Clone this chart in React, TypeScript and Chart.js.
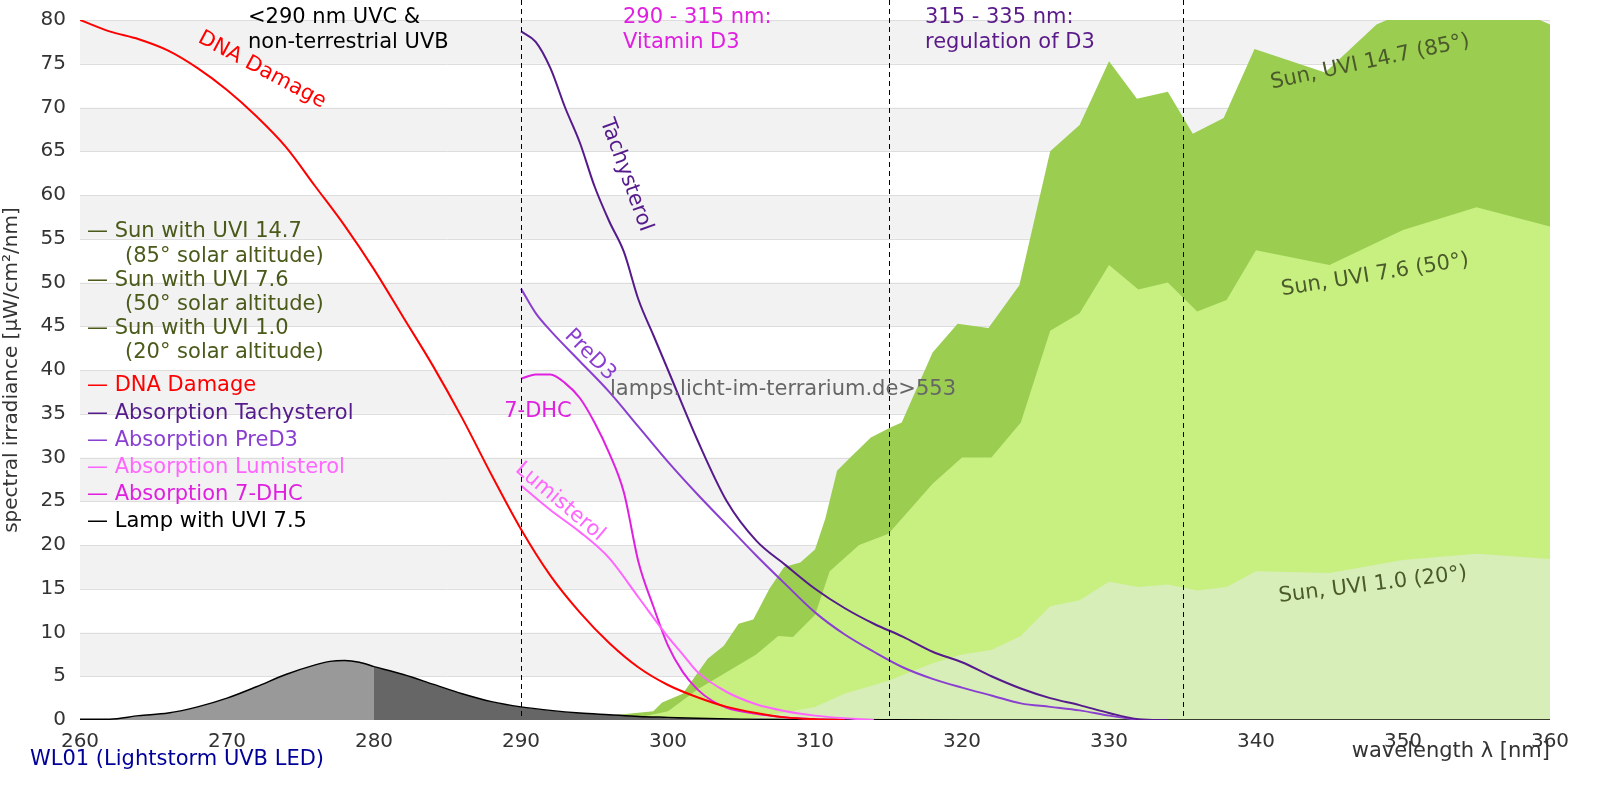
import React, { useEffect, useRef } from "react";
import { Chart, registerables } from "chart.js";
Chart.register(...registerables);

const sun147X = [293, 299, 299.6, 301, 302.7, 303.8, 304.8, 305.8, 306.9, 307.9, 309, 310, 310.7, 311.5, 312.4, 313.8, 315.2, 315.9, 318, 319.7, 321.8, 323.9, 326, 328, 330, 331.9, 334, 335.7, 337.8, 339.9, 344.7, 348.2, 351, 354.4, 356.5, 360];
const sun147Y = [0, 1, 2, 3, 7, 8.5, 11, 11.5, 15, 17.5, 18, 19.5, 23, 28.5, 30, 32.3, 33.5, 34, 42, 45.3, 44.8, 49.7, 65, 68, 75.3, 71, 71.8, 67, 68.8, 76.7, 74, 79.5, 81.5, 83, 82, 79.5];
const sun76X = [293, 298, 300, 302, 304, 305, 306, 307.5, 308.5, 310, 311, 313, 315, 318, 320, 322, 324, 326, 328, 330, 332, 334, 336, 338, 340, 345, 350, 355, 360];
const sun76Y = [0, 0.3, 1, 3.5, 5.5, 6.5, 7.5, 9.6, 9.5, 12, 17, 20, 21.3, 27, 30, 30, 34, 44.5, 46.5, 52, 49.2, 50, 46.7, 48, 53.7, 52, 56, 58.6, 56.4];
const sun10X = [305, 310, 312, 315, 318, 320, 322, 324, 326, 328, 330, 332, 334, 336, 338, 340, 345, 350, 355, 360];
const sun10Y = [0, 1.5, 3, 4.5, 6.5, 7.5, 8, 9.6, 13, 13.7, 15.8, 15.2, 15.5, 14.8, 15.2, 17, 16.8, 18.3, 19, 18.4];
const dnaX = [260, 262, 264, 266, 268, 270, 272, 274, 276, 278, 280, 282, 284, 286, 288, 290, 292, 294, 296, 298, 300, 302, 304, 306, 308, 310, 312];
const dnaY = [80, 78.7, 77.8, 76.5, 74.5, 72, 69, 65.5, 61, 56.5, 51.5, 46, 40.5, 34.5, 28, 21.8, 16.5, 12.3, 8.8, 6, 4, 2.6, 1.5, 0.8, 0.3, 0.1, 0];
const tachyX = [290, 291, 292, 293, 294, 295, 296, 297, 298, 299, 300, 302, 304, 306, 308, 310, 312, 314, 316, 318, 320, 322, 324, 326, 328, 330, 332, 334];
const tachyY = [78.7, 77.5, 74.5, 70, 66, 61, 57, 53.5, 48, 44, 40, 32, 25, 20.5, 17.7, 15, 12.8, 11, 9.5, 7.8, 6.6, 5, 3.6, 2.5, 1.7, 0.8, 0.1, 0];
const pred3X = [290, 291, 292, 294, 296, 298, 300, 302, 304, 306, 308, 310, 312, 314, 316, 318, 320, 322, 324, 326, 328, 330, 332];
const pred3Y = [49.3, 46.5, 44.5, 41, 37.5, 33.5, 29.5, 25.8, 22.3, 18.8, 15.5, 12.3, 9.8, 7.8, 6, 4.7, 3.7, 2.8, 1.9, 1.5, 1.1, 0.5, 0];
const dhcX = [290, 291, 292, 293, 294, 295, 296, 297, 298, 299, 300, 301, 302, 303, 304, 306, 308, 310, 312];
const dhcY = [39, 39.5, 39.5, 38.5, 36.8, 34, 30.5, 26, 18, 13, 8.5, 5.5, 3.5, 2.2, 1.4, 0.7, 0.3, 0.1, 0];
const lumiX = [290, 292, 294, 296, 298, 300, 301, 302, 304, 306, 308, 310, 312, 314];
const lumiY = [26.8, 24, 21.5, 18.5, 14, 9.5, 7.5, 5.5, 3.2, 1.8, 1, 0.5, 0.2, 0];
const lampX = [260, 262, 264, 266, 268, 270, 272, 274, 276, 277, 278, 279, 280, 282, 284, 286, 288, 290, 292, 294, 296, 298, 300, 302, 305, 310, 320, 360];
const lampY = [0.1, 0.1, 0.5, 0.8, 1.5, 2.5, 3.8, 5.2, 6.3, 6.7, 6.8, 6.6, 6.1, 5.2, 4.1, 3.0, 2.1, 1.5, 1.1, 0.8, 0.6, 0.4, 0.3, 0.2, 0.1, 0.05, 0, 0];
const xTicks = [260, 270, 280, 290, 300, 310, 320, 330, 340, 350, 360];
const regionLines = [290, 315, 335];

const pts = (xs: number[], ys: number[]) => xs.map((x, i) => ({ x, y: ys[i] }));
const FONT = "'DejaVu Sans', sans-serif";

const legendItems: [string, string, boolean][] = [
  ["— Sun with UVI 14.7", "#4a5a1a", false],
  ["(85° solar altitude)", "#4a5a1a", true],
  ["— Sun with UVI 7.6", "#4a5a1a", false],
  ["(50° solar altitude)", "#4a5a1a", true],
  ["— Sun with UVI 1.0", "#4a5a1a", false],
  ["(20° solar altitude)", "#4a5a1a", true],
];
const legendItems2: [string, string][] = [
  ["— DNA Damage", "#ff0000"],
  ["— Absorption Tachysterol", "#551a8b"],
  ["— Absorption PreD3", "#8a3fd1"],
  ["— Absorption Lumisterol", "#ff66ff"],
  ["— Absorption 7-DHC", "#e020e0"],
  ["— Lamp with UVI 7.5", "#000000"],
];

const decor = {
  id: "decor",
  beforeDatasetsDraw(chart: any) {
    const { ctx, chartArea: a, scales } = chart;
    const y = scales.y;
    ctx.save();
    ctx.fillStyle = "#f2f2f2";
    for (let v = 5; v < 80; v += 10) {
      const t = y.getPixelForValue(v + 5), b = y.getPixelForValue(v);
      ctx.fillRect(a.left, t, a.right - a.left, b - t);
    }
    ctx.strokeStyle = "#dddddd";
    ctx.lineWidth = 1;
    for (let v = 5; v <= 80; v += 5) {
      const p = Math.round(y.getPixelForValue(v)) + 0.5;
      ctx.beginPath(); ctx.moveTo(a.left, p); ctx.lineTo(a.right, p); ctx.stroke();
    }
    ctx.restore();
  },
  afterDatasetsDraw(chart: any) {
    const { ctx, chartArea: a, scales } = chart;
    const x = scales.x;
    ctx.save();
    ctx.strokeStyle = "#000"; ctx.lineWidth = 1; ctx.setLineDash([5, 4]);
    regionLines.forEach((v) => {
      const p = Math.round(x.getPixelForValue(v)) + 0.5;
      ctx.beginPath(); ctx.moveTo(p, 0); ctx.lineTo(p, a.bottom); ctx.stroke();
    });
    ctx.setLineDash([]);
    const txt = (s: string, px: number, py: number, color: string, rot = 0, size = 21, align: CanvasTextAlign = "left") => {
      ctx.save(); ctx.translate(px, py); ctx.rotate((rot * Math.PI) / 180);
      ctx.fillStyle = color; ctx.font = `${size}px ${FONT}`; ctx.textAlign = align; ctx.textBaseline = "middle";
      ctx.fillText(s, 0, 0); ctx.restore();
    };
    txt("<290 nm UVC &", 248, 18, "#000");
    txt("non-terrestrial UVB", 248, 43, "#000");
    txt("290 - 315 nm:", 623, 18, "#e020e0");
    txt("Vitamin D3", 623, 43, "#e020e0");
    txt("315 - 335 nm:", 925, 18, "#5a1a8a");
    txt("regulation of D3", 925, 43, "#5a1a8a");
    txt("DNA Damage", 262, 70, "#ff0000", 28, 21, "center");
    txt("Tachysterol", 626, 175, "#551a8b", 70, 21, "center");
    txt("PreD3", 590, 355, "#8a3fd1", 45, 21, "center");
    txt("7-DHC", 538, 412, "#e020e0", 0, 21, "center");
    txt("Lumisterol", 560, 502, "#ff66ff", 40, 21, "center");
    txt("Sun, UVI 14.7 (85°)", 1370, 62, "#4a5a2a", -12, 21, "center");
    txt("Sun, UVI 7.6 (50°)", 1375, 275, "#4a5a2a", -9, 21, "center");
    txt("Sun, UVI 1.0 (20°)", 1373, 585, "#4a5a2a", -7, 21, "center");
    txt("lamps.licht-im-terrarium.de>553", 783, 390, "#666666", 0, 21, "center");
    legendItems.forEach(([s, c, ind], i) => txt(s, ind ? 125 : 87, 232 + i * 24.2, c));
    legendItems2.forEach(([s, c], i) => txt(s, 87, 386 + i * 27.2, c));
    txt("wavelength λ [nm]", a.right, 752, "#333", 0, 21, "right");
    txt("WL01 (Lightstorm UVB LED)", 30, 760, "#000099", 0, 21, "left");
    ctx.restore();
  },
};

export default function App() {
  const ref = useRef<HTMLCanvasElement>(null);
  useEffect(() => {
    const line = (label: string, xs: number[], ys: number[], color: string, w = 2) => ({
      label, data: pts(xs, ys), borderColor: color, borderWidth: w, pointRadius: 0, fill: false, order: 0, cubicInterpolationMode: "monotone",
    });
    const area = (label: string, xs: number[], ys: number[], color: string, order: number, border = "transparent", bw = 0) => ({
      label, data: pts(xs, ys), borderColor: border, borderWidth: bw, backgroundColor: color, pointRadius: 0, fill: "origin", order, tension: 0,
    });
    const lampA = lampX.map((x, i) => ({ x, y: lampY[i] })).filter((p) => p.x <= 280);
    const lampB = lampX.map((x, i) => ({ x, y: lampY[i] })).filter((p) => p.x >= 280);
    const chart = new Chart(ref.current!, {
      type: "line",
      data: {
        datasets: [
          line("DNA Damage", dnaX, dnaY, "#ff0000"),
          line("Tachysterol", tachyX, tachyY, "#551a8b"),
          line("PreD3", pred3X, pred3Y, "#8a3fd1"),
          line("Lumisterol", lumiX, lumiY, "#ff66ff"),
          line("7-DHC", dhcX, dhcY, "#e020e0"),
          { ...area("LampA", [], [], "#999999", 1, "#000", 1.5), data: lampA, cubicInterpolationMode: "monotone" },
          { ...area("LampB", [], [], "#666666", 1, "#000", 1.5), data: lampB, cubicInterpolationMode: "monotone" },
          area("Sun 1.0", sun10X, sun10Y, "#d8eeb8", 2),
          area("Sun 7.6", sun76X, sun76Y, "#c8f080", 3),
          area("Sun 14.7", sun147X, sun147Y, "#9acd50", 4),
        ] as any,
      },
      options: {
        animation: false,
        responsive: false,
        layout: { padding: { top: 20, right: 50, left: 0, bottom: 0 } },
        plugins: { legend: { display: false }, tooltip: { enabled: false } },
        scales: {
          x: {
            type: "linear", min: 260, max: 360,
            afterBuildTicks: (s: any) => { s.ticks = xTicks.map((v) => ({ value: v })); },
            afterFit: (s: any) => { s.height = 80; },
            grid: { display: false }, border: { display: false },
            ticks: { color: "#333", font: { size: 20, family: FONT }, padding: 2 },
          },
          y: {
            min: 0, max: 80,
            afterFit: (s: any) => { s.width = 80; },
            grid: { display: false }, border: { display: false },
            ticks: { stepSize: 5, color: "#333", font: { size: 20, family: FONT }, padding: 6 },
            title: { display: true, text: "spectral irradiance [µW/cm²/nm]", color: "#333", font: { size: 20, family: FONT }, padding: 0 },
          },
        },
      } as any,
      plugins: [decor],
    });
    return () => chart.destroy();
  }, []);
  return (
    <div style={{ position: "fixed", left: 0, top: 0, width: 1600, height: 800, background: "#fff" }}>
      <canvas ref={ref} width={1600} height={800} style={{ width: 1600, height: 800 }} />
    </div>
  );
}
